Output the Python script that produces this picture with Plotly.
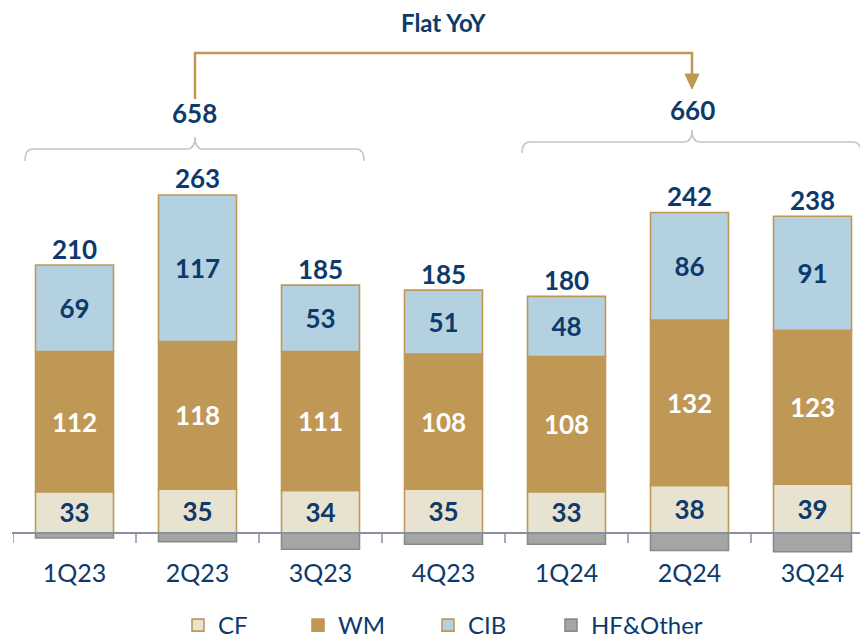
import plotly.graph_objects as go

# ---------------- data ----------------
quarters = ["1Q23", "2Q23", "3Q23", "4Q23", "1Q24", "2Q24", "3Q24"]
cf = [33, 35, 34, 35, 33, 38, 39]
wm = [112, 118, 111, 108, 108, 132, 123]
cib = [69, 117, 53, 51, 48, 86, 91]
hf_other = [-4, -7, -13, -9, -9, -14, -15]
totals = [210, 263, 185, 185, 180, 242, 238]
period_totals = ["658", "660"]
headline = "Flat YoY"

# ---------------- style ----------------
NAVY = "#0D3A6B"
GOLD = "#BF9856"
CREAM = "#E8E3D0"
BLUE = "#B4D1E2"
GRAY = "#A5A5A5"
GRAY_EDGE = "#8A8A8A"
BRACKET = "#C4C4C4"
AXIS = "#8890A2"
FONT = "Lato"

OFF = 8                  # browser body margin
W, H = 860, 630          # figure size (fills the window after the body margin)
L_M, R_M, T_M = 5, 0, 0
PLOT_BOTTOM_S = 556      # screen row of plot-area bottom
B_M = H - (PLOT_BOTTOM_S - OFF)
PLOT_W = W - L_M - R_M
PLOT_H = H - T_M - B_M
BASE_S = 533             # screen row of zero
K = 1.252                # pixels per unit
CAT_W = 123.0            # pixels per category

def xp(sx):
    return (sx - OFF - L_M) / PLOT_W

def yp(sy):
    return (H - B_M - (sy - OFF)) / PLOT_H

fig = go.Figure()

stack_top = [a + b + c for a, b, c in zip(cf, wm, cib)]

def bar(name, vals, fill, edge, tcolor, legend, show_text=True):
    fig.add_trace(go.Bar(
        name=name, x=quarters, y=vals, legend=legend,
        marker=dict(color=fill, line=dict(color=edge, width=1.6)),
        text=[str(v) for v in vals] if show_text else None,
        textposition="inside" if show_text else "none",
        insidetextanchor="middle",
        constraintext="none",
        textangle=0,
        textfont=dict(family=FONT, size=26, color=tcolor, weight="bold"),
        hoverinfo="skip",
    ))

bar("CF", cf, CREAM, GOLD, NAVY, "legend")
bar("WM", wm, GOLD, GOLD, "white", "legend2")
bar("CIB", cib, BLUE, GOLD, NAVY, "legend3")
bar("HF&Other", hf_other, GRAY, GRAY_EDGE, NAVY, "legend4", show_text=False)

fig.add_trace(go.Scatter(
    x=quarters, y=stack_top, mode="text", text=[str(t) for t in totals],
    textposition="top center",
    textfont=dict(family=FONT, size=26, color=NAVY, weight="bold"),
    showlegend=False, hoverinfo="skip", cliponaxis=False,
))

shapes = []
# axis line at zero
shapes.append(dict(type="line", xref="paper", yref="y", x0=xp(12), x1=1.0, y0=0, y1=0,
                   line=dict(color=AXIS, width=2), layer="above"))
# category boundary ticks
for i in range(len(quarters)):
    shapes.append(dict(type="line", xref="x", yref="paper", x0=i - 0.5, x1=i - 0.5,
                       y0=yp(BASE_S), y1=yp(BASE_S + 10),
                       line=dict(color=AXIS, width=1.5), layer="above"))

def bracket(xl, xr, xc, yh, yend, ytop):
    r = 8
    p = (f"M {xp(xl)},{yp(yend)} Q {xp(xl)},{yp(yh)} {xp(xl + r)},{yp(yh)} "
         f"L {xp(xc - r)},{yp(yh)} Q {xp(xc)},{yp(yh)} {xp(xc)},{yp(ytop)} "
         f"Q {xp(xc)},{yp(yh)} {xp(xc + r)},{yp(yh)} "
         f"L {xp(xr - r)},{yp(yh)} Q {xp(xr)},{yp(yh)} {xp(xr)},{yp(yend)}")
    return dict(type="path", xref="paper", yref="paper", path=p,
                line=dict(color=BRACKET, width=1.5))

shapes.append(bracket(25, 364, 195, 149, 161, 137))
shapes.append(bracket(522, 861, 692, 142, 153, 130))

# gold connector
shapes.append(dict(type="path", xref="paper", yref="paper",
                   path=(f"M {xp(195)},{yp(99)} L {xp(195)},{yp(53)} "
                         f"L {xp(692)},{yp(53)} L {xp(692)},{yp(76)}"),
                   line=dict(color=GOLD, width=2.5)))
shapes.append(dict(type="path", xref="paper", yref="paper",
                   path=(f"M {xp(685)},{yp(74)} L {xp(699)},{yp(74)} "
                         f"L {xp(692)},{yp(89)} Z"),
                   fillcolor=GOLD, line=dict(color=GOLD, width=1)))

def label(sx, sy, text, size):
    return dict(x=xp(sx), y=yp(sy), xref="paper", yref="paper", text=f"<b>{text}</b>",
                showarrow=False, xanchor="center", yanchor="middle", borderpad=0,
                font=dict(family=FONT, size=size, color=NAVY))

annotations = [
    label(443, 23, headline, 24),
    label(194, 113, period_totals[0], 26),
    label(692, 110, period_totals[1], 26),
]

def legend_at(sx):
    return dict(orientation="h", xref="container", yref="container",
                x=(sx - OFF) / W, y=1 - 595 / H, xanchor="left", yanchor="top",
                font=dict(family=FONT, size=24, color=NAVY),
                itemclick=False, itemdoubleclick=False, bgcolor="rgba(0,0,0,0)")

fig.update_layout(
    width=W, height=H,
    margin=dict(l=L_M, r=R_M, t=T_M, b=B_M),
    paper_bgcolor="white", plot_bgcolor="white",
    barmode="relative", bargap=0.366,
    font=dict(family=FONT, color=NAVY),
    xaxis=dict(type="category", range=[-0.5, -0.5 + PLOT_W / CAT_W],
               showgrid=False, zeroline=False, showline=False, ticks="",
               tickfont=dict(family=FONT, size=25, color=NAVY), fixedrange=True),
    yaxis=dict(range=[-(PLOT_BOTTOM_S - BASE_S) / K, (BASE_S - OFF) / K], visible=False,
               fixedrange=True),
    showlegend=True,
    legend=legend_at(178),
    legend2=legend_at(298),
    legend3=legend_at(428),
    legend4=legend_at(551),
    shapes=shapes, annotations=annotations,
)

fig.write_html("out.html")
